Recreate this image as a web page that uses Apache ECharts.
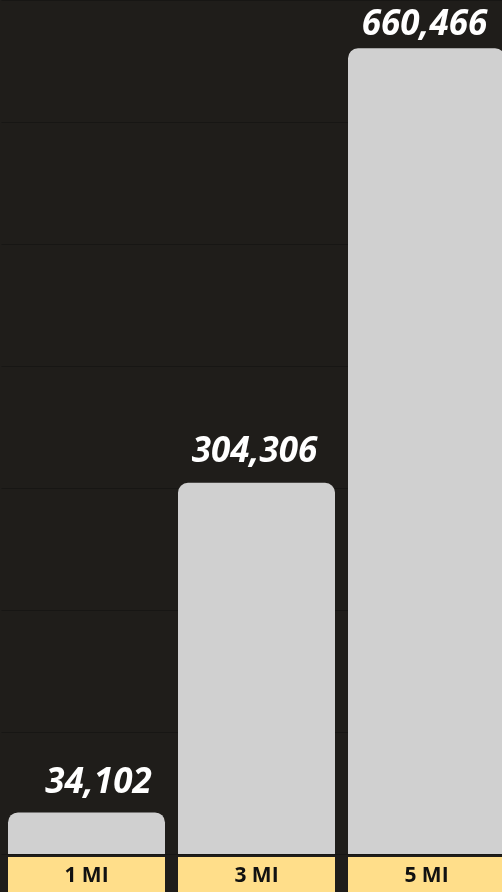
<!DOCTYPE html>
<html>
<head>
<meta charset="utf-8">
<script src="https://cdn.jsdelivr.net/npm/echarts@6/dist/echarts.min.js"></script>
<style>
  html, body { margin: 0; padding: 0; background: #1f1d1a; }
  #chart { width: 502px; height: 892px; }
</style>
</head>
<body>
<div id="chart"></div>
<script>
  const categories = ['1 MI', '3 MI', '5 MI']
  const values = [34102, 304306, 660466]
  // small label nudges, as in the picture
  const labelShift = [[12, 1], [-2, 0], [-2, 7]]

  const chart = echarts.init(document.getElementById('chart'))

  const option = {
    backgroundColor: '#1f1d1a',
    animation: false,
    grid: { left: 1.5, top: 0, width: 510, bottom: 38, outerBoundsMode: 'none' },
    xAxis: {
      type: 'category',
      data: categories,
      axisLine: { show: false },
      axisTick: { show: false },
      axisLabel: {
        margin: 3,
        color: '#111',
        fontFamily: 'Open Sans',
        fontWeight: 'bold',
        fontSize: 21,
        backgroundColor: '#ffde8a',
        width: 157,
        height: 35,
        lineHeight: 39,
        align: 'center',
        verticalAlign: 'top'
      }
    },
    yAxis: {
      type: 'value',
      min: 0,
      max: 700000,
      interval: 100000,
      axisLabel: { show: false },
      axisLine: { show: false },
      axisTick: { show: false },
      splitLine: { lineStyle: { color: '#171614', width: 1 } }
    },
    series: [
      {
        type: 'bar',
        data: values.map((v, i) => ({ value: v, label: { offset: labelShift[i] } })),
        barWidth: 157,
        itemStyle: {
          color: '#d0d0d0',
          borderRadius: [10, 10, 0, 0]
        },
        label: {
          show: true,
          position: 'top',
          distance: 13,
          color: '#fff',
          fontFamily: 'Open Sans',
          fontStyle: 'italic',
          fontWeight: 'bold',
          fontSize: 35,
          formatter (p) {
            return p.value.toLocaleString('en-US')
          }
        }
      }
    ]
  }

  chart.setOption(option)
</script>
</body>
</html>
